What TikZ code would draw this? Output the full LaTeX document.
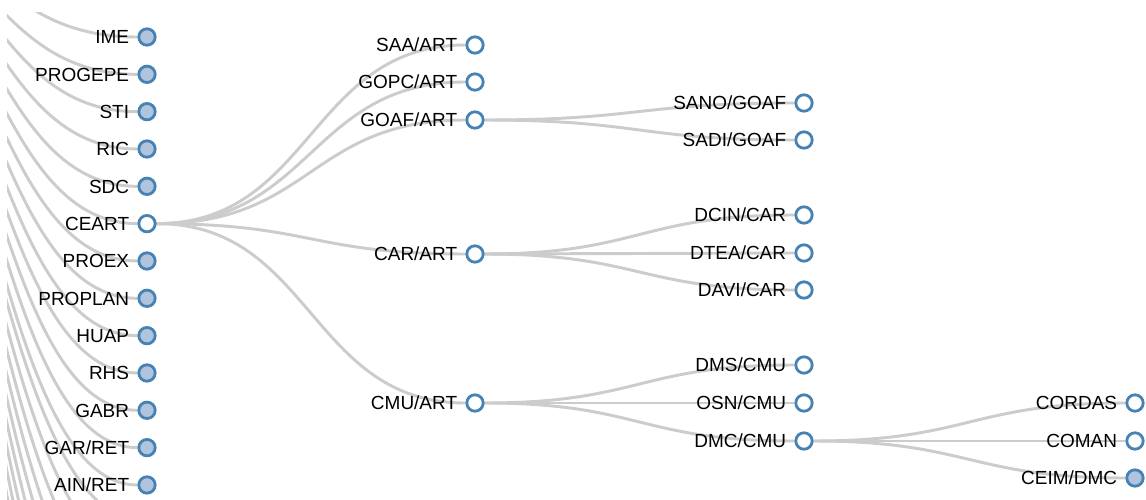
\documentclass[tikz,border=0pt]{standalone}
\usepackage{fontspec}
\setmainfont{Liberation Sans}
\usepackage{xcolor}
\usetikzlibrary{positioning,backgrounds}
\definecolor{steelblue}{HTML}{4682B4}
\definecolor{lightsteel}{HTML}{B0C4DE}
\definecolor{linkgray}{HTML}{CCCCCC}
\tikzset{
  every node/.style={font=\fontsize{13.5}{16}\selectfont}
}

\begin{document}
\begin{tikzpicture}[x=0.025cm, y=-0.025cm]
  % Define styles for tree nodes and links
  \tikzset{
    opennode/.style={
      draw=steelblue,
      fill=white,
      circle,
      minimum size=0.41cm,
      inner sep=0pt,
      line width=2pt
    },
    foldnode/.style={
      opennode,
      fill=lightsteel
    },
    tag/.style={
      inner sep=0pt,
      text height=9.7pt,
      text depth=0pt,
      left=0.2cm of #1
    },
    link/.style={
      draw=linkgray,
      line width=2.1pt,
      to path={.. controls +(165,0) and +(-165,0) .. (\tikztotarget)}
    }
  }

  % Visible window of the tree
  \useasboundingbox (0,0) rectangle (1146,500);

  % Root lies outside the window, up and to the left
  \coordinate (root) at (-182,-97);

  % First level
  \foreach \k/\nm/\txt/\sty in {1/ime/IME/foldnode, 2/progepe/PROGEPE/foldnode,
      3/sti/STI/foldnode, 4/ric/RIC/foldnode, 5/sdc/SDC/foldnode,
      6/ceart/CEART/opennode, 7/proex/PROEX/foldnode, 8/proplan/PROPLAN/foldnode,
      9/huap/HUAP/foldnode, 10/rhs/RHS/foldnode, 11/gabr/GABR/foldnode,
      12/garret/{GAR/RET}/foldnode, 13/ainret/{AIN/RET}/foldnode} {
    \node[\sty] (\nm) at (147,{37+37.33*(\k-1)}) {};
    \node[tag=\nm] (\nm-t) {\txt};
  }
  % siblings below the window
  \foreach \k in {14,...,24} {
    \coordinate (kid\k) at (147,{37+37.33*(\k-1)});
  }

  % Second level (children of CEART)
  \foreach \nm/\txt/\y in {saa/{SAA/ART}/45, gopc/{GOPC/ART}/82, goaf/{GOAF/ART}/120,
      car/{CAR/ART}/254, cmu/{CMU/ART}/403} {
    \node[opennode] (\nm) at (475,\y) {};
    \node[tag=\nm] (\nm-t) {\txt};
  }

  % Third level
  \foreach \nm/\txt/\y in {sano/{SANO/GOAF}/103, sadi/{SADI/GOAF}/140,
      dcin/{DCIN/CAR}/215, dtea/{DTEA/CAR}/253, davi/{DAVI/CAR}/290,
      dms/{DMS/CMU}/365, osn/{OSN/CMU}/403, dmc/{DMC/CMU}/441} {
    \node[opennode] (\nm) at (804,\y) {};
    \node[tag=\nm] (\nm-t) {\txt};
  }

  % Fourth level (children of DMC/CMU)
  \node[opennode] (cordas) at (1135,403) {};
  \node[tag=cordas] (cordas-t) {CORDAS};
  \node[opennode] (coman) at (1135,441) {};
  \node[tag=coman] (coman-t) {COMAN};
  \node[foldnode] (ceim) at (1135,478) {};
  \node[tag=ceim] (ceim-t) {CEIM/DMC};

  % Links behind nodes and texts
  \begin{scope}[on background layer]
    \clip (7,12) rectangle (1146,500);
    \foreach \nm in {ime,progepe,sti,ric,sdc,ceart,proex,proplan,huap,rhs,gabr,garret,ainret}
      \draw[link] (root) to (\nm);
    \foreach \k in {14,...,24}
      \draw[link] (root) to (kid\k);
    \foreach \nm in {saa,gopc,goaf,car,cmu}
      \draw[link] (ceart) to (\nm);
    \foreach \nm in {sano,sadi}
      \draw[link] (goaf) to (\nm);
    \foreach \nm in {dcin,dtea,davi}
      \draw[link] (car) to (\nm);
    \foreach \nm in {dms,osn,dmc}
      \draw[link] (cmu) to (\nm);
    \foreach \nm in {cordas,coman,ceim}
      \draw[link] (dmc) to (\nm);
  \end{scope}
\end{tikzpicture}
\end{document}
